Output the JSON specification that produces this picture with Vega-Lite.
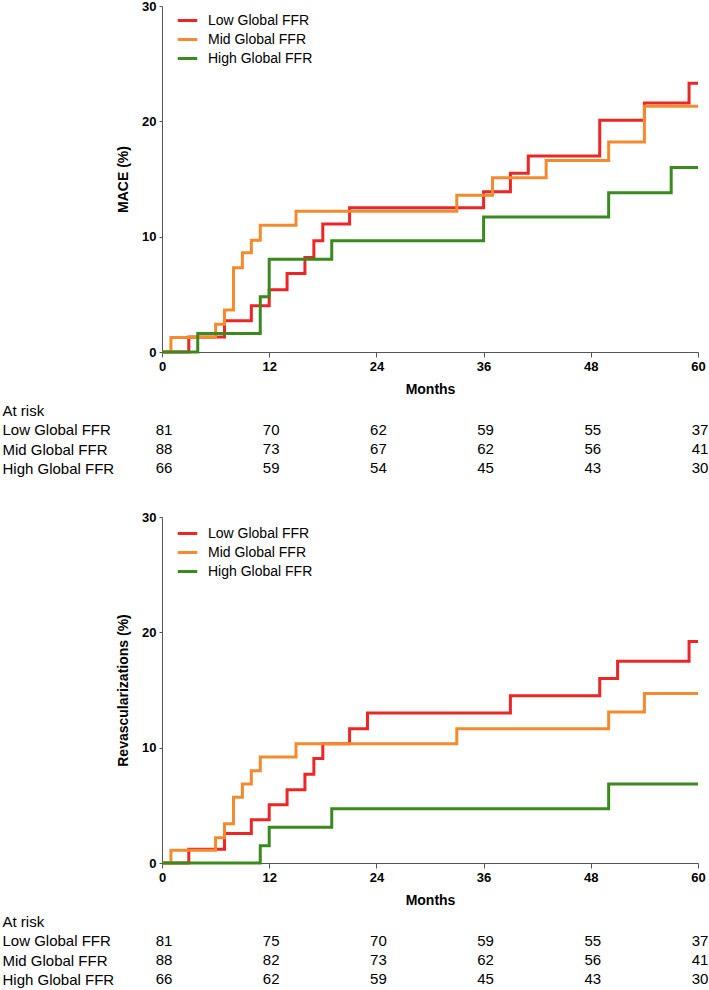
{
  "$schema": "https://vega.github.io/schema/vega-lite/v6.json",
  "padding": {"left": 2, "top": 0, "right": 0, "bottom": 0},
  "background": "white",
  "datasets": {
    "mace": [
      {"group": "Low Global FFR", "month": 0, "pct": 0},
      {"group": "Low Global FFR", "month": 3, "pct": 1.3},
      {"group": "Low Global FFR", "month": 7, "pct": 2.7},
      {"group": "Low Global FFR", "month": 10, "pct": 4.0},
      {"group": "Low Global FFR", "month": 12, "pct": 5.4},
      {"group": "Low Global FFR", "month": 14, "pct": 6.8},
      {"group": "Low Global FFR", "month": 16, "pct": 8.2},
      {"group": "Low Global FFR", "month": 17, "pct": 9.65},
      {"group": "Low Global FFR", "month": 18, "pct": 11.1},
      {"group": "Low Global FFR", "month": 21, "pct": 12.5},
      {"group": "Low Global FFR", "month": 36, "pct": 13.9},
      {"group": "Low Global FFR", "month": 39, "pct": 15.5},
      {"group": "Low Global FFR", "month": 41, "pct": 17.0},
      {"group": "Low Global FFR", "month": 49, "pct": 20.1},
      {"group": "Low Global FFR", "month": 54, "pct": 21.6},
      {"group": "Low Global FFR", "month": 59, "pct": 23.3},
      {"group": "Low Global FFR", "month": 60, "pct": 23.3},
      {"group": "Mid Global FFR", "month": 0, "pct": 0},
      {"group": "Mid Global FFR", "month": 1, "pct": 1.25},
      {"group": "Mid Global FFR", "month": 6, "pct": 2.4},
      {"group": "Mid Global FFR", "month": 7, "pct": 3.65},
      {"group": "Mid Global FFR", "month": 8, "pct": 7.3},
      {"group": "Mid Global FFR", "month": 9, "pct": 8.6},
      {"group": "Mid Global FFR", "month": 10, "pct": 9.7},
      {"group": "Mid Global FFR", "month": 11, "pct": 11.0},
      {"group": "Mid Global FFR", "month": 15, "pct": 12.2},
      {"group": "Mid Global FFR", "month": 33, "pct": 13.6},
      {"group": "Mid Global FFR", "month": 37, "pct": 15.1},
      {"group": "Mid Global FFR", "month": 43, "pct": 16.6},
      {"group": "Mid Global FFR", "month": 50, "pct": 18.2},
      {"group": "Mid Global FFR", "month": 54, "pct": 21.3},
      {"group": "Mid Global FFR", "month": 60, "pct": 21.3},
      {"group": "High Global FFR", "month": 0, "pct": 0},
      {"group": "High Global FFR", "month": 4, "pct": 1.6},
      {"group": "High Global FFR", "month": 11, "pct": 4.8},
      {"group": "High Global FFR", "month": 12, "pct": 8.05},
      {"group": "High Global FFR", "month": 19, "pct": 9.65},
      {"group": "High Global FFR", "month": 36, "pct": 11.7},
      {"group": "High Global FFR", "month": 50, "pct": 13.8},
      {"group": "High Global FFR", "month": 57, "pct": 16.0},
      {"group": "High Global FFR", "month": 60, "pct": 16.0}
    ],
    "revasc": [
      {"group": "Low Global FFR", "month": 0, "pct": 0},
      {"group": "Low Global FFR", "month": 3, "pct": 1.2},
      {"group": "Low Global FFR", "month": 7, "pct": 2.55},
      {"group": "Low Global FFR", "month": 10, "pct": 3.75},
      {"group": "Low Global FFR", "month": 12, "pct": 5.05},
      {"group": "Low Global FFR", "month": 14, "pct": 6.35},
      {"group": "Low Global FFR", "month": 16, "pct": 7.7},
      {"group": "Low Global FFR", "month": 17, "pct": 9.05},
      {"group": "Low Global FFR", "month": 18, "pct": 10.35},
      {"group": "Low Global FFR", "month": 21, "pct": 11.65},
      {"group": "Low Global FFR", "month": 23, "pct": 13.0},
      {"group": "Low Global FFR", "month": 39, "pct": 14.5},
      {"group": "Low Global FFR", "month": 49, "pct": 16.0},
      {"group": "Low Global FFR", "month": 51, "pct": 17.5},
      {"group": "Low Global FFR", "month": 59, "pct": 19.2},
      {"group": "Low Global FFR", "month": 60, "pct": 19.2},
      {"group": "Mid Global FFR", "month": 0, "pct": 0},
      {"group": "Mid Global FFR", "month": 1, "pct": 1.1},
      {"group": "Mid Global FFR", "month": 6, "pct": 2.2},
      {"group": "Mid Global FFR", "month": 7, "pct": 3.4},
      {"group": "Mid Global FFR", "month": 8, "pct": 5.7},
      {"group": "Mid Global FFR", "month": 9, "pct": 6.85},
      {"group": "Mid Global FFR", "month": 10, "pct": 8.0},
      {"group": "Mid Global FFR", "month": 11, "pct": 9.2},
      {"group": "Mid Global FFR", "month": 15, "pct": 10.35},
      {"group": "Mid Global FFR", "month": 33, "pct": 11.65},
      {"group": "Mid Global FFR", "month": 50, "pct": 13.1},
      {"group": "Mid Global FFR", "month": 54, "pct": 14.7},
      {"group": "Mid Global FFR", "month": 60, "pct": 14.7},
      {"group": "High Global FFR", "month": 0, "pct": 0},
      {"group": "High Global FFR", "month": 11, "pct": 1.5},
      {"group": "High Global FFR", "month": 12, "pct": 3.1},
      {"group": "High Global FFR", "month": 19, "pct": 4.7},
      {"group": "High Global FFR", "month": 50, "pct": 6.85},
      {"group": "High Global FFR", "month": 60, "pct": 6.85}
    ],
    "risk1": [
      {"row": "Low Global FFR", "month": 0, "n": "81"},
      {"row": "Low Global FFR", "month": 12, "n": "70"},
      {"row": "Low Global FFR", "month": 24, "n": "62"},
      {"row": "Low Global FFR", "month": 36, "n": "59"},
      {"row": "Low Global FFR", "month": 48, "n": "55"},
      {"row": "Low Global FFR", "month": 60, "n": "37"},
      {"row": "Mid Global FFR", "month": 0, "n": "88"},
      {"row": "Mid Global FFR", "month": 12, "n": "73"},
      {"row": "Mid Global FFR", "month": 24, "n": "67"},
      {"row": "Mid Global FFR", "month": 36, "n": "62"},
      {"row": "Mid Global FFR", "month": 48, "n": "56"},
      {"row": "Mid Global FFR", "month": 60, "n": "41"},
      {"row": "High Global FFR", "month": 0, "n": "66"},
      {"row": "High Global FFR", "month": 12, "n": "59"},
      {"row": "High Global FFR", "month": 24, "n": "54"},
      {"row": "High Global FFR", "month": 36, "n": "45"},
      {"row": "High Global FFR", "month": 48, "n": "43"},
      {"row": "High Global FFR", "month": 60, "n": "30"}
    ],
    "risk2": [
      {"row": "Low Global FFR", "month": 0, "n": "81"},
      {"row": "Low Global FFR", "month": 12, "n": "75"},
      {"row": "Low Global FFR", "month": 24, "n": "70"},
      {"row": "Low Global FFR", "month": 36, "n": "59"},
      {"row": "Low Global FFR", "month": 48, "n": "55"},
      {"row": "Low Global FFR", "month": 60, "n": "37"},
      {"row": "Mid Global FFR", "month": 0, "n": "88"},
      {"row": "Mid Global FFR", "month": 12, "n": "82"},
      {"row": "Mid Global FFR", "month": 24, "n": "73"},
      {"row": "Mid Global FFR", "month": 36, "n": "62"},
      {"row": "Mid Global FFR", "month": 48, "n": "56"},
      {"row": "Mid Global FFR", "month": 60, "n": "41"},
      {"row": "High Global FFR", "month": 0, "n": "66"},
      {"row": "High Global FFR", "month": 12, "n": "62"},
      {"row": "High Global FFR", "month": 24, "n": "59"},
      {"row": "High Global FFR", "month": 36, "n": "45"},
      {"row": "High Global FFR", "month": 48, "n": "43"},
      {"row": "High Global FFR", "month": 60, "n": "30"}
    ]
  },
  "spacing": 33,
  "vconcat": [
    {
      "spacing": 5,
      "vconcat": [
        {
          "width": 536,
          "height": 346,
          "data": {"name": "mace"},
          "mark": {"type": "line", "interpolate": "step-after", "strokeWidth": 3},
          "encoding": {
            "x": {"field": "month", "type": "quantitative", "scale": {"domain": [0, 60], "nice": false},
              "axis": {"values": [0, 12, 24, 36, 48, 60], "title": "Months"}},
            "y": {"field": "pct", "type": "quantitative", "scale": {"domain": [0, 30], "nice": false},
              "axis": {"values": [0, 10, 20, 30], "title": "MACE (%)"}},
            "color": {"field": "group", "type": "nominal",
              "scale": {"domain": ["Low Global FFR", "Mid Global FFR", "High Global FFR"], "range": ["#EC2626", "#F38A2E", "#3A8A1E"]},
              "legend": {"orient": "none", "legendX": 14, "legendY": 3, "title": null}}
          }
        },
        {
          "width": 536,
          "height": 77,
          "data": {"name": "risk1"},
          "mark": {"type": "text", "align": "center", "baseline": "middle", "dx": 2, "fontSize": 15, "font": "Liberation Sans", "color": "black"},
          "encoding": {
            "x": {"field": "month", "type": "quantitative", "scale": {"domain": [0, 60], "nice": false}, "axis": null},
            "y": {"field": "row", "type": "nominal",
              "scale": {"domain": ["At risk", "Low Global FFR", "Mid Global FFR", "High Global FFR"]},
              "axis": {"title": null, "domain": false, "ticks": false, "labelAlign": "left", "labelPadding": 160, "labelFontSize": 15, "labelFontWeight": "normal", "labelColor": "black"}},
            "text": {"field": "n"}
          }
        }
      ]
    },
    {
      "spacing": 5,
      "vconcat": [
        {
          "width": 536,
          "height": 346,
          "data": {"name": "revasc"},
          "mark": {"type": "line", "interpolate": "step-after", "strokeWidth": 3},
          "encoding": {
            "x": {"field": "month", "type": "quantitative", "scale": {"domain": [0, 60], "nice": false},
              "axis": {"values": [0, 12, 24, 36, 48, 60], "title": "Months"}},
            "y": {"field": "pct", "type": "quantitative", "scale": {"domain": [0, 30], "nice": false},
              "axis": {"values": [0, 10, 20, 30], "title": "Revascularizations (%)"}},
            "color": {"field": "group", "type": "nominal",
              "scale": {"domain": ["Low Global FFR", "Mid Global FFR", "High Global FFR"], "range": ["#EC2626", "#F38A2E", "#3A8A1E"]},
              "legend": {"orient": "none", "legendX": 14, "legendY": 5, "title": null}}
          }
        },
        {
          "width": 536,
          "height": 77,
          "data": {"name": "risk2"},
          "mark": {"type": "text", "align": "center", "baseline": "middle", "dx": 2, "fontSize": 15, "font": "Liberation Sans", "color": "black"},
          "encoding": {
            "x": {"field": "month", "type": "quantitative", "scale": {"domain": [0, 60], "nice": false}, "axis": null},
            "y": {"field": "row", "type": "nominal",
              "scale": {"domain": ["At risk", "Low Global FFR", "Mid Global FFR", "High Global FFR"]},
              "axis": {"title": null, "domain": false, "ticks": false, "labelAlign": "left", "labelPadding": 160, "labelFontSize": 15, "labelFontWeight": "normal", "labelColor": "black"}},
            "text": {"field": "n"}
          }
        }
      ]
    }
  ],
  "resolve": {"scale": {"color": "independent"}},
  "config": {
    "font": "Liberation Sans",
    "view": {"stroke": null},
    "axis": {
      "grid": false,
      "labelFlush": false,
      "labelOverlap": false,
      "domainColor": "#555555",
      "tickColor": "#555555",
      "labelFontSize": 13,
      "labelFontWeight": "bold",
      "labelColor": "black",
      "titleFontSize": 14,
      "titleFontWeight": "bold",
      "titleColor": "black",
      "labelPadding": 3
    },
    "axisX": {"tickSize": 5, "titlePadding": 9},
    "axisY": {"tickSize": 3, "titlePadding": 11},
    "legend": {
      "symbolType": "stroke",
      "symbolStrokeWidth": 3,
      "symbolSize": 380,
      "labelFontSize": 14,
      "labelColor": "black",
      "labelOffset": 9,
      "rowPadding": 0,
      "padding": 0
    }
  }
}
